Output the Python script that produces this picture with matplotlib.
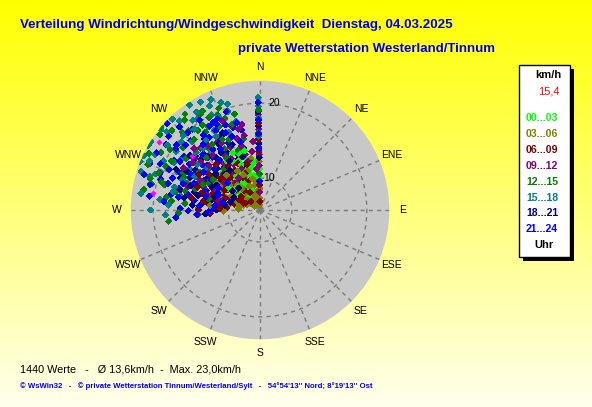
import numpy as np
import matplotlib
matplotlib.use("Agg")
import matplotlib.pyplot as plt
from matplotlib.patches import Rectangle

# wind direction (deg) and speed (km/h) per time slot
dir_00_03 = [330, 346, 306, 320, 335, 340, 315, 325, 310, 342, 328, 318, 300, 336, 322, 312, 345, 332, 305, 326,
             318, 333, 348, 338, 308, 323, 313, 343, 328, 352, 303, 316, 331, 337, 321, 350, 355, 340, 334, 345,
             326, 311, 297, 359, 359]
spd_00_03 = [11.1, 12.6, 10.3, 9.5, 10.2, 11.8, 10.8, 12.0, 11.5, 9.0, 8.6, 12.4, 9.8, 12.9, 10.6, 9.2, 10.5, 11.6, 11.9, 9.9,
             8.2, 9.4, 11.4, 12.2, 8.9, 11.3, 12.8, 10.8, 10.0, 12.0, 10.9, 9.9, 13.2, 8.6, 8.0, 10.4, 12.2, 13.6, 14.2, 13.9,
             13.6, 10.0, 9.3, 10.0, 11.2]

dir_03_06 = [315, 315, 288, 350, 300, 325, 335, 308, 295, 320, 340, 330, 290, 305, 312, 345, 282, 318, 328, 298,
             338, 310, 322, 286, 302, 348, 292, 305, 318, 326, 333, 342, 296, 313, 322, 337, 285, 300, 308, 330,
             346, 280, 316, 352, 268, 272, 275, 290, 303, 320, 335, 343, 359, 359, 359, 359]
spd_03_06 = [7.6, 9.5, 12.0, 12.7, 8.4, 7.0, 8.1, 10.2, 9.1, 8.8, 7.3, 9.6, 10.6, 7.2, 11.0, 9.0, 9.8, 6.6, 10.4, 11.4,
             10.8, 6.9, 11.8, 8.0, 12.6, 8.2, 7.6, 9.8, 10.2, 8.5, 7.8, 11.2, 10.0, 8.3, 7.4, 9.2, 11.0, 11.9, 7.9, 11.7,
             10.0, 8.6, 12.2, 9.4, 10.6, 8.6, 12.4, 9.0, 6.6, 9.5, 10.9, 7.6, 6.4, 7.3, 8.6, 12.2]

dir_06_09 = [280, 285, 290, 295, 300, 305, 310, 315, 320, 325, 330, 278, 288, 298, 308, 318, 326, 283, 293, 303,
             313, 323, 335, 340, 276, 296, 286, 283, 292, 302, 311, 321, 333, 279, 289, 299, 309, 317, 328, 274,
             295, 305, 314, 324, 338, 290, 300, 266, 270, 272, 280, 288, 297, 306, 316, 331, 344,
             359, 359, 359, 359, 359]
spd_06_09 = [10.5, 12.2, 11.0, 12.8, 9.8, 11.6, 8.5, 10.9, 12.3, 9.2, 11.3, 12.8, 9.0, 13.4, 13.1, 7.8, 13.6, 11.7, 10.1, 8.2,
             12.0, 10.4, 12.6, 9.9, 11.4, 14.3, 13.9, 9.2, 8.1, 10.9, 9.9, 8.9, 10.6, 13.4, 12.4, 11.2, 12.4, 11.6, 12.0, 10.2,
             7.9, 13.9, 7.4, 13.0, 11.0, 14.6, 15.2, 12.4, 13.9, 11.1, 15.0, 10.7, 8.8, 8.8, 14.2, 8.4, 12.0,
             6.9, 9.1, 13.6, 15.2, 17.4]

dir_09_12 = [342, 354, 310, 320, 330, 335, 345, 325, 315, 305, 300, 340, 350, 328, 318, 308, 338, 312, 298, 322,
             333, 348, 303, 316, 292, 288, 302, 306, 311, 314, 319, 324, 327, 331, 336, 344, 296, 294, 309, 321,
             339, 346, 286, 299, 326, 352, 341, 337, 345, 330, 313, 305, 348, 355, 283,
             359, 359, 359, 359, 359, 359]
spd_09_12 = [15.8, 14.9, 13.0, 14.2, 12.8, 15.0, 13.4, 11.5, 15.6, 14.4, 12.2, 11.0, 12.0, 16.4, 10.6, 16.8, 13.9, 11.9, 15.2, 13.5,
             10.2, 15.9, 10.8, 17.2, 13.8, 15.9, 13.2, 11.8, 14.8, 12.6, 15.3, 12.0, 14.5, 13.6, 11.8, 14.6, 14.6, 12.2, 15.9, 16.8,
             16.2, 12.4, 13.0, 17.4, 10.9, 13.6, 17.6, 18.6, 16.9, 16.0, 17.8, 16.7, 17.4, 11.2, 11.4,
             8.1, 11.7, 13.1, 14.1, 16.5, 18.5]

dir_12_15 = [307, 336, 339, 347, 263, 283.5, 278, 282, 300, 315, 325, 295, 290, 305, 320, 330, 310, 298, 288, 318,
             328, 312, 275, 333, 302, 292, 285, 322, 340, 296, 272, 280, 284, 293, 299, 304, 309, 313, 317, 324,
             331, 276, 286, 297, 303, 314, 327, 336, 294, 282, 320, 310, 330, 334, 338, 342, 326, 322, 318, 345,
             332, 290, 286, 268, 266, 359, 359, 359]
spd_12_15 = [22.5, 19.6, 18.8, 15.5, 18.0, 20.6, 18.3, 17.3, 21.0, 20.4, 18.4, 19.6, 16.2, 17.8, 16.6, 15.2, 14.5, 13.6, 14.8, 13.0,
             20.8, 21.6, 15.8, 17.0, 15.3, 21.9, 18.9, 19.2, 14.2, 17.1, 14.0, 21.5, 16.0, 16.8, 19.2, 20.2, 19.0, 17.6, 18.6, 16.6,
             19.8, 17.6, 21.0, 22.4, 13.2, 15.8, 14.0, 16.0, 14.1, 12.8, 21.4, 23.0, 21.0, 18.2, 20.4, 17.8, 19.4, 22.0, 20.0, 19.0,
             16.4, 20.2, 19.4, 16.6, 14.0, 10.5, 16.0, 19.1]

dir_15_18 = [292, 302, 334, 270, 287, 297, 310, 318, 325, 305, 295, 285, 315, 330, 300, 290, 320, 312, 282, 308,
             338, 298, 276, 326, 314, 288, 302, 322, 342, 280, 283, 291, 294, 299, 305, 311, 316, 321, 328, 333,
             285, 291, 306, 317, 278, 297, 336, 273, 309, 345, 331, 336, 340, 327, 343, 323, 329, 300, 295, 289,
             267, 359, 359, 359, 359]
spd_15_18 = [23.0, 22.9, 21.2, 20.3, 21.1, 20.2, 22.0, 21.8, 20.5, 19.4, 17.9, 19.0, 18.6, 18.0, 16.6, 15.0, 15.8, 17.2, 17.6, 14.9,
             16.9, 21.6, 19.2, 22.6, 20.0, 22.4, 18.3, 17.5, 19.6, 16.5, 20.8, 19.9, 21.9, 18.8, 20.8, 19.6, 22.6, 19.6, 18.9, 20.0,
             17.6, 16.8, 16.1, 16.9, 21.8, 15.5, 21.9, 18.0, 22.8, 18.0, 22.2, 19.3, 21.0, 21.3, 20.5, 20.7, 17.2, 23.0, 22.9, 20.5,
             18.4, 20.8, 19.6, 18.0, 15.6]

dir_18_21 = [300, 310, 290, 320, 330, 305, 315, 295, 285, 325, 335, 312, 298, 308, 318, 280, 292, 302, 328, 288,
             340, 322, 296, 276, 345, 314, 284, 283, 289, 294, 298, 304, 306, 311, 316, 320, 326, 332, 279, 287,
             292, 300, 309, 323, 337, 274, 296, 266, 270, 278, 285, 342, 334, 328, 316, 305, 296,
             359, 359, 359, 359]
spd_18_21 = [14.0, 15.0, 13.4, 13.2, 14.6, 12.2, 16.4, 16.0, 14.8, 11.8, 13.0, 11.2, 11.6, 17.6, 15.7, 12.5, 17.2, 15.9, 16.2, 10.9,
             12.1, 17.8, 12.9, 13.6, 14.3, 13.7, 16.7, 14.2, 15.6, 14.7, 16.8, 13.5, 16.5, 16.1, 12.4, 14.8, 15.0, 16.8, 16.0, 12.0,
             11.8, 12.4, 13.4, 12.4, 15.2, 14.8, 18.2, 13.0, 11.5, 10.5, 9.8, 13.2, 17.2, 13.4, 9.8, 10.2, 9.6,
             12.7, 14.6, 17.0, 18.9]

dir_21_24 = [313, 293, 347, 269.5, 271, 272, 287, 300, 305, 310, 315, 320, 325, 330, 295, 290, 285, 280, 300, 308,
             318, 328, 335, 298, 288, 278, 312, 322, 338, 295, 305, 316, 326, 283, 292, 302, 275, 342, 308, 332,
             282, 286, 290, 294, 297, 303, 306, 311, 314, 319, 323, 327, 331, 336, 279, 284, 289, 299, 304, 309,
             317, 321, 329, 344, 274, 277, 287, 301, 335, 339, 341, 333, 345, 266, 265, 268, 276, 282, 290, 298,
             310, 359, 359, 359, 359, 359]
spd_21_24 = [22.7, 21.7, 16.7, 15.3, 16.4, 12.0, 19.6, 19.0, 18.2, 17.0, 18.8, 19.8, 17.6, 16.8, 17.4, 18.2, 16.9, 17.8, 15.6, 15.5,
             15.2, 14.4, 15.6, 14.2, 13.6, 14.6, 13.9, 16.0, 18.0, 20.4, 21.0, 21.2, 20.2, 20.8, 15.2, 13.4, 18.6, 17.3, 19.9, 19.0,
             15.5, 18.5, 20.0, 19.0, 16.1, 17.0, 19.6, 18.9, 16.4, 17.3, 18.3, 15.4, 17.9, 17.0, 16.8, 13.2, 16.6, 21.5, 14.8, 21.4,
             19.9, 14.3, 18.8, 15.2, 13.8, 20.6, 21.9, 18.2, 19.2, 16.2, 19.6, 18.6, 17.8, 14.2, 17.0, 12.6, 11.8, 10.8, 11.6, 12.0,
             11.4, 20.1, 17.8, 15.9, 13.9, 9.6]

dir_extra = [304, 279, 308.5]
spd_extra = [22.0, 20.2, 17.3]

slot_labels = ["00...03", "03...06", "06...09", "09...12", "12...15", "15...18", "18...21", "21...24"]
slot_colors = ["#00ff00", "#808000", "#800000", "#800080", "#008000", "#008080", "#000080", "#0000ff"]
slot_dirs = [dir_00_03, dir_03_06, dir_06_09, dir_09_12, dir_12_15, dir_15_18, dir_18_21, dir_21_24]
slot_spds = [spd_00_03, spd_03_06, spd_06_09, spd_09_12, spd_12_15, spd_15_18, spd_18_21, spd_21_24]

compass = ["N", "NNE", "NE", "ENE", "E", "ESE", "SE", "SSE", "S", "SSW", "SW", "WSW", "W", "WNW", "NW", "NNW"]
r_min, r_max = 5.73, 23.0
current_speed = "15,4"

W, H = 592, 407
fig = plt.figure(figsize=(W / 100, H / 100), dpi=100)


def fx(x):
    return x / W


def fy(y):
    return 1 - y / H


# yellow gradient background
bg = fig.add_axes([0, 0, 1, 1])
grad = np.linspace(0, 1, 256)[:, None]
top = np.array([1.0, 1.0, 0.0])
bottom = np.array([1.0, 1.0, 0.93])
img = top[None, None, :] * (1 - grad[:, :, None]) + bottom[None, None, :] * grad[:, :, None]
bg.imshow(img, aspect="auto", extent=[0, 1, 0, 1])
bg.set_axis_off()

# polar plot
cx, cy, rad = 260, 210, 129.3
ax = fig.add_axes([fx(cx - rad), fy(cy + rad), 2 * rad / W, 2 * rad / H], projection="polar")
ax.set_theta_zero_location("N")
ax.set_theta_direction(-1)
ax.set_ylim(r_min, r_max)
ax.set_facecolor("#c8c8c8")
ax.spines["polar"].set_visible(False)
ax.set_thetagrids(np.arange(0, 360, 22.5), [""] * 16)
ax.set_rgrids([10, 20], ["", ""])
ax.grid(True, color="#7a7a7a", linestyle=(0, (3, 3)), linewidth=1)
ax.set_axisbelow(True)

# interleave the time slots so the colours overlap each other like in the original
th, rr, cc = [], [], []
longest = max(len(d) for d in slot_dirs)
for k in range(longest):
    for d, s, c in zip(slot_dirs, slot_spds, slot_colors):
        if k < len(d):
            th.append(np.radians(d[k]))
            rr.append(s[k])
            cc.append(c)
ax.scatter(th, rr, s=9.6, c=cc, marker="D", linewidths=0, antialiased=False)
ax.scatter(np.radians(dir_extra), spd_extra, s=9.6, c="#ff00ff", marker="D", linewidths=0,
           antialiased=False)

for i, name in enumerate(compass):
    ax.text(np.radians(i * 22.5), r_min + 143 / 7.5, name, ha="center", va="center",
            fontsize=7.5, family="Liberation Sans", clip_on=False)

ax.annotate("20", xy=(0, 20), xytext=(8, 0), textcoords="offset pixels", ha="left", va="center",
            fontsize=7.5, family="Liberation Sans")
ax.annotate("10", xy=(0, 10), xytext=(3, 0), textcoords="offset pixels", ha="left", va="center",
            fontsize=7.5, family="Liberation Sans")

# titles
fig.text(fx(20), fy(25), "Verteilung Windrichtung/Windgeschwindigkeit  Dienstag, 04.03.2025",
         color="#0000ee", fontsize=9.6, fontweight="bold", family="Liberation Sans", va="center")
fig.text(fx(238), fy(49), "private Wetterstation Westerland/Tinnum",
         color="#0000ee", fontsize=9.5, fontweight="bold", family="Liberation Sans", va="center")

# legend box with shadow
bx0, by0, bx1, by1 = 519, 65, 570, 257
fig.patches.append(Rectangle((fx(bx0 + 4), fy(by1 + 4)), (bx1 - bx0) / W, (by1 - by0) / H,
                             transform=fig.transFigure, facecolor="black", edgecolor="none"))
fig.patches.append(Rectangle((fx(bx0), fy(by1)), (bx1 - bx0) / W, (by1 - by0) / H,
                             transform=fig.transFigure, facecolor="white", edgecolor="black", linewidth=1))
fig.text(fx(548), fy(75), "km/h", fontsize=8, fontweight="bold", family="Liberation Sans",
         ha="center", va="center")
fig.text(fx(560), fy(92), current_speed, color="red", fontsize=8, family="Liberation Sans",
         ha="right", va="center")
for i, (lab, c) in enumerate(zip(slot_labels, slot_colors)):
    fig.text(fx(542), fy(118.3 + i * 15.85), lab, color=c, fontsize=7.6, fontweight="bold",
             family="Liberation Sans", ha="center", va="center")
fig.text(fx(544), fy(245), "Uhr", fontsize=8, fontweight="bold", family="Liberation Sans",
         ha="center", va="center")

# footer
fig.text(fx(20), fy(369), "1440 Werte   -   Ø 13,6km/h  -  Max. 23,0km/h", fontsize=7.8,
         family="Liberation Sans", va="center")
fig.text(fx(20), fy(386), "© WsWin32   -   © private Wetterstation Tinnum/Westerland/Sylt   -   "
         "54°54'13'' Nord; 8°19'13'' Ost", color="#0000ee", fontsize=5.6, fontweight="bold",
         family="Liberation Sans", va="center")

fig.savefig("out.png", dpi=100)
